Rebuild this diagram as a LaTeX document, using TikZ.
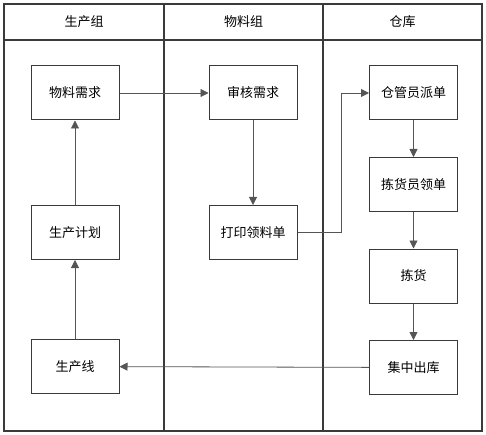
\documentclass[tikz,border=0pt]{standalone}
\usepackage{fontspec}
\newfontfamily\cjk{Noto Sans CJK SC}
\usepackage{xcolor}
\usetikzlibrary{arrows.meta, positioning}
\definecolor{lanegray}{HTML}{3A3A3A}
\definecolor{linegray}{HTML}{555555}

\begin{document}
\begin{tikzpicture}[
    x=1pt, y=-1pt,
    node distance=36.5pt and 89pt,
    box/.style={draw=lanegray, line width=1pt, minimum width=88pt, minimum height=54pt, font=\cjk\fontsize{13}{15}\selectfont, inner sep=2pt},
    lane/.style={draw=lanegray, line width=1.3pt},
    arr/.style={-{Triangle[length=8pt, width=8pt]}, linegray, line width=0.8pt},
    title/.style={font=\cjk\fontsize{13}{15}\selectfont},
]
\useasboundingbox (0,0) rectangle (486,435);

% swimlanes
\draw[lane] (4,4) rectangle (482,431);
\draw[lane] (4,40) -- (482,40);
\draw[lane] (164,4) -- (164,431);
\draw[lane] (323,4) -- (323,431);
\node[title] (prod) at (84,22) {生产组};
\node[title] (mat) at (243.5,22) {物料组};
\node[title] (wh) at (402.5,22) {仓库};

% 生产组
\node[box] (req) at (75,93) {物料需求};
\node[box, below=84.5pt of req] (plan) {生产计划};
\node[box, below=79pt of plan] (line) {生产线};

% 物料组
\node[box, right=89pt of req] (audit) {审核需求};
\node[box, below=84.5pt of audit] (print) {打印领料单};

% 仓库
\node[box, right=71.5pt of audit] (dispatch) {仓管员派单};
\node[box, below=of dispatch] (pickup) {拣货员领单};
\node[box, below=of pickup] (pick) {拣货};
\node[box, below=of pick] (out) {集中出库};

\coordinate (bend) at (341,0);

\draw[arr] (req) -- (audit);
\draw[arr] (audit) -- (print);
\draw[arr] (print.east) -- (print.east -| bend) -- (bend |- dispatch.west) -- (dispatch.west);
\draw[arr] (dispatch) -- (pickup);
\draw[arr] (pickup) -- (pick);
\draw[arr] (pick) -- (out);
\draw[arr] (out) -- (line);
\draw[arr] (line) -- (plan);
\draw[arr] (plan) -- (req);
\end{tikzpicture}
\end{document}
